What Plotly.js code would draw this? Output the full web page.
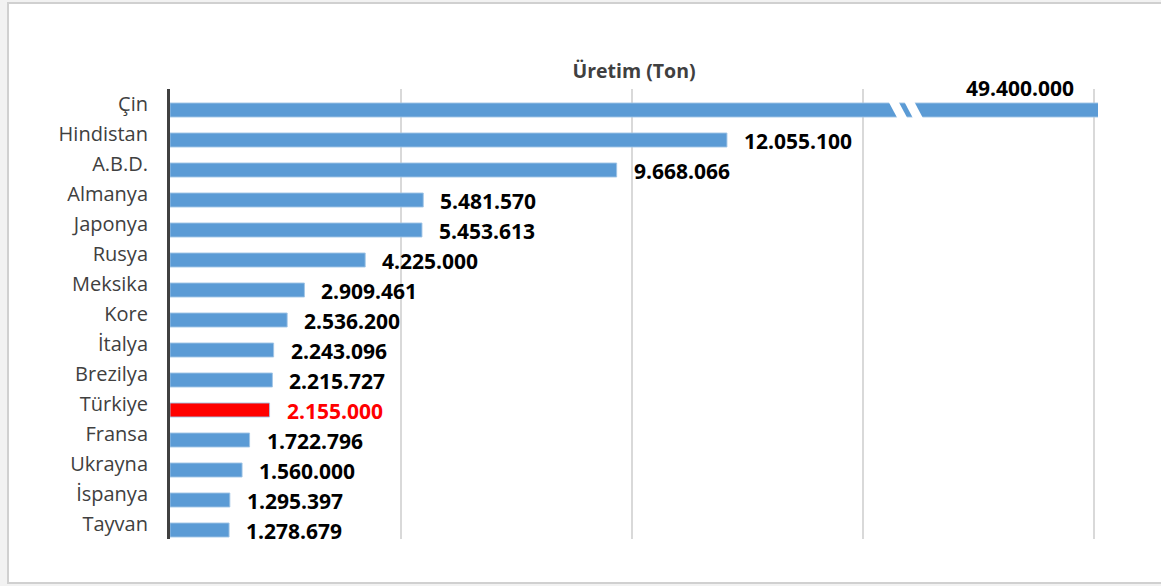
<!DOCTYPE html>
<html>
<head>
<meta charset="utf-8">
<script src="https://cdn.plot.ly/plotly-3.0.1.min.js"></script>
<style>
  html, body { margin: 0; padding: 0; background: #f2f2f2; }
  #frame { position: absolute; left: 7px; top: 2px; width: 1160px; height: 578px; background: #ffffff;
           border-left: 2px solid #d0d0d0; border-top: 2px solid #d0d0d0; border-bottom: 2px solid #d0d0d0; }
  #chart { position: absolute; left: 0; top: 0; width: 1161px; height: 586px; }
</style>
</head>
<body>
<div id="frame"></div>
<div id="chart"></div>
<script>
// ---- data ----
const countries = ["Çin", "Hindistan", "A.B.D.", "Almanya", "Japonya", "Rusya", "Meksika", "Kore",
                   "İtalya", "Brezilya", "Türkiye", "Fransa", "Ukrayna", "İspanya", "Tayvan"];
const production = [49400000, 12055100, 9668066, 5481570, 5453613, 4225000, 2909461, 2536200,
                    2243096, 2215727, 2155000, 1722796, 1560000, 1295397, 1278679];
const valueLabels = ["49.400.000", "12.055.100", "9.668.066", "5.481.570", "5.453.613", "4.225.000",
                     "2.909.461", "2.536.200", "2.243.096", "2.215.727", "2.155.000", "1.722.796",
                     "1.560.000", "1.295.397", "1.278.679"];
const highlight = "Türkiye";
const chartTitle = "Üretim (Ton)";

// ---- layout geometry ----
const W = 1161, H = 586;
const mL = 170, mT = 89, mR = 63, mB = 47;
const plotW = W - mL - mR, plotH = H - mT - mB;
const xMax = 20000000 * plotW / 924;
const px = v => (v - mL) / plotW;          // pixel -> paper x
const py = v => (H - mB - v) / plotH;      // pixel -> paper y

const blue = "#5b9bd5", red = "#ff0000";
const colors = countries.map(c => c === highlight ? red : blue);

const trace = {
  type: "bar",
  orientation: "h",
  y: countries,
  x: production,
  marker: { color: colors, line: { color: "rgba(160,196,230,0.9)", width: 1 } },
  width: 0.4667,
  offset: -0.0333,
  hoverinfo: "skip"
};

const annotations = [];
countries.forEach((c, i) => {
  if (i === 0) {
    annotations.push({
      xref: "paper", yref: "paper", x: px(1076), y: py(88),
      xanchor: "right", yanchor: "middle", showarrow: false,
      text: valueLabels[i],
      font: { family: "Open Sans", size: 21, color: "#000000", weight: 700 }
    });
  } else {
    annotations.push({
      xref: "x", yref: "y", x: production[i], y: c,
      xanchor: "left", yanchor: "middle", showarrow: false,
      xshift: 15, yshift: -7,
      text: valueLabels[i],
      font: { family: "Open Sans", size: 21, color: c === highlight ? red : "#000000", weight: 700 }
    });
  }
});

// axis-break marks on the first bar
const strip = (t1, t2, b1, b2) => ({
  type: "path", xref: "paper", yref: "paper",
  path: `M ${px(t1)} ${py(101)} L ${px(t2)} ${py(101)} L ${px(b2)} ${py(119)} L ${px(b1)} ${py(119)} Z`,
  fillcolor: "#ffffff", line: { width: 0 }, layer: "above"
});
const shapes = [strip(888.2, 898.2, 897.8, 907.8), strip(903.9, 913.9, 913.4, 923.4)];

const layout = {
  width: W, height: H,
  margin: { l: mL, r: mR, t: mT, b: mB, pad: 0 },
  paper_bgcolor: "rgba(0,0,0,0)",
  plot_bgcolor: "rgba(0,0,0,0)",
  showlegend: false,
  title: {
    text: chartTitle,
    x: 0.5, xref: "paper", xanchor: "center",
    y: 1 - 71 / H, yref: "container", yanchor: "middle",
    font: { family: "Open Sans", size: 19.5, color: "#404040", weight: 700 }
  },
  xaxis: {
    range: [0, xMax],
    tick0: 0, dtick: 5000000,
    showgrid: true, gridcolor: "#d9d9d9", gridwidth: 1.5,
    zeroline: false, showline: false,
    showticklabels: false, ticks: "",
    fixedrange: true
  },
  yaxis: {
    type: "category",
    autorange: "reversed",
    showgrid: false, zeroline: false,
    showline: true, linecolor: "#404040", linewidth: 3,
    ticks: "", ticklabelstandoff: 15,
    tickfont: { family: "Open Sans", size: 20, color: "#404040" },
    fixedrange: true
  },
  annotations: annotations,
  shapes: shapes,
  bargap: 0.5
};

Plotly.newPlot("chart", [trace], layout, { displayModeBar: false, staticPlot: true });
</script>
</body>
</html>
